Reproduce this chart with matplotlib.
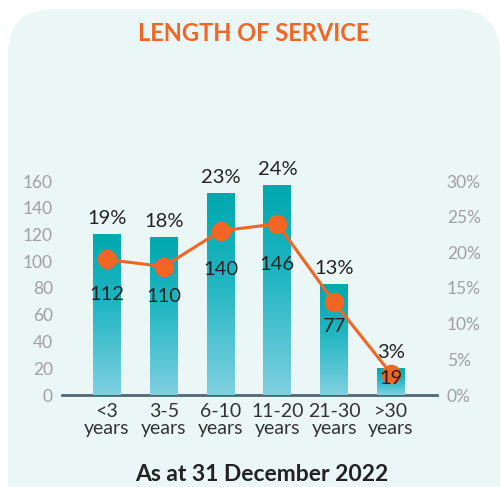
import matplotlib
matplotlib.use("Agg")
import matplotlib.pyplot as plt
import numpy as np
from matplotlib.colors import LinearSegmentedColormap
from matplotlib.patches import FancyBboxPatch

plt.rcParams['font.family'] = ['Lato', 'DejaVu Sans']

categories = ['<3\nyears', '3-5\nyears', '6-10\nyears', '11-20\nyears', '21-30\nyears', '>30\nyears']
headcount = [112, 110, 140, 146, 77, 19]
share = [19, 18, 23, 24, 13, 3]
left_ticks = [0, 20, 40, 60, 80, 100, 120, 140, 160]
right_ticks = [0, 5, 10, 15, 20, 25, 30]

orange = '#f26522'
W, H = 502, 487

fig = plt.figure(figsize=(W / 100, H / 100), dpi=100)

# rounded panel behind everything, in pixel units
bg = fig.add_axes([0, 0, 1, 1])
bg.set_xlim(0, W)
bg.set_ylim(H, 0)
bg.axis('off')
bg.add_patch(FancyBboxPatch((8, 9), 492, 600, boxstyle="round,pad=0,rounding_size=46",
                            facecolor='#ebf6f6', edgecolor='none'))

rect = [62 / W, 92 / H, 375 / W, 214 / H]
ax = fig.add_axes(rect)
ax.patch.set_alpha(0)
x = np.arange(len(categories))
ax.set_xlim(-0.79, 5.81)
ax.set_ylim(0, 160)
ax.set_yticks(left_ticks)
ax.set_xticks(x)
ax.set_xticklabels(categories)
for s in ['top', 'right', 'left']:
    ax.spines[s].set_visible(False)
ax.spines['bottom'].set_color('#4f6674')
ax.spines['bottom'].set_linewidth(2)
ax.tick_params(axis='y', length=0, labelsize=12.5, labelcolor='#a0a0a0', pad=6.5)
ax.tick_params(axis='x', length=0, labelsize=14, labelcolor='#333333', pad=6)
for t in ax.get_xticklabels():
    t.set_linespacing(0.95)

# bars with a vertical gradient
axb = ax.twinx()
axb.set_ylim(0, 148.6)
axb.axis('off')
cmap = LinearSegmentedColormap.from_list('bar', [(0, '#80d0e1'), (0.55, '#22b6c2'), (1, '#00a8ad')])
grad = np.linspace(0, 1, 256).reshape(-1, 1)
bars = axb.bar(x, headcount, width=0.49, color='none', edgecolor='none')
for b in bars:
    x0, w, h = b.get_x(), b.get_width(), b.get_height()
    im = axb.imshow(grad, extent=[x0, x0 + w, 0, h], origin='lower', aspect='auto', cmap=cmap, zorder=2)
    im.set_clip_path(b)
axb.set_xlim(-0.79, 5.81)
axb.set_ylim(0, 148.6)

# percentage line on the right axis
axr = ax.twinx()
axr.set_ylim(0, 30)
axr.set_yticks(right_ticks)
axr.set_yticklabels([f'{v}%' for v in right_ticks])
for s in axr.spines.values():
    s.set_visible(False)
axr.tick_params(axis='y', length=0, labelsize=12.5, labelcolor='#a0a0a0', pad=7)
axr.plot(x, share, color=orange, lw=2.2, marker='o', markersize=13, zorder=3)

for xi, v, p in zip(x, headcount, share):
    axr.annotate(f'{p}%', (xi, v), xycoords=axb.transData, xytext=(0, 5), textcoords='offset points',
                 ha='center', va='bottom', fontsize=14.5, color='#222222', zorder=5)
    axr.text(xi, v * 0.62, str(v), transform=axb.transData, ha='center', va='center',
             fontsize=14.5, color='#222222', zorder=5)

fig.text(254 / W, 1 - 33 / H, 'LENGTH OF SERVICE', ha='center', va='center',
         fontsize=17, weight='bold', color=orange)
fig.text(262 / W, 1 - 485 / H, 'As at 31 December 2022', ha='center', va='bottom',
         fontsize=16.5, weight='bold', color='#222222')

fig.savefig('out.png', dpi=100)
